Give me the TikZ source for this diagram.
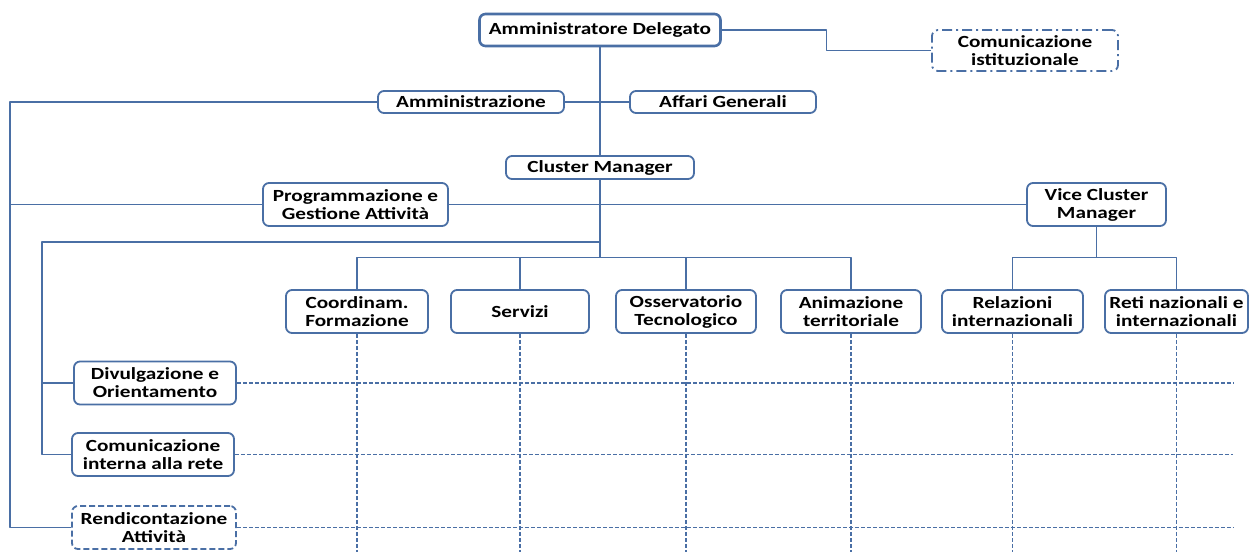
\documentclass[tikz,border=0pt]{standalone}
\usepackage{fontspec}
\setmainfont{Carlito}[FakeStretch=1.25]
\usetikzlibrary{calc}
\definecolor{orgblue}{HTML}{4A6FA5}

\begin{document}
\begin{tikzpicture}[line join=round,x=1pt,y=-1pt,
    box/.style={draw=orgblue,line width=1.8pt,rounded corners=6pt,fill=white,
      align=center,inner sep=0pt,minimum height=43pt,
      font=\bfseries\fontsize{17}{18}\selectfont},
    link/.style={draw=orgblue,line width=1.6pt},
    grid/.style={draw=orgblue,line width=1.2pt,dash pattern=on 4pt off 2pt}]
  \useasboundingbox (0,0) rectangle (1249,552);
  % top of the chart
  \node[box,minimum width=241pt,minimum height=32pt,line width=2.6pt] (ad) at (600,30) {Amministratore Delegato};
  \node[box,minimum width=186pt,minimum height=41pt,dash pattern=on 10pt off 4pt on 2pt off 4pt] (comist) at (1025,50.5) {Comunicazione\\istituzionale};
  \node[box,minimum width=186pt,minimum height=22pt] (amm) at (471,102) {Amministrazione};
  \node[box,minimum width=186pt,minimum height=22pt] (aff) at (723,102) {Affari Generali};
  \node[box,minimum width=188pt,minimum height=23pt] (cm) at (600,167.5) {Cluster Manager};
  \node[box,minimum width=185pt] (prog) at (355.5,204.5) {Programmazione e\\Gestione Attività};
  \node[box,minimum width=139pt] (vcm) at (1096.5,204.5) {Vice Cluster\\Manager};
  % second level
  \node[box,minimum width=142pt] (form) at (357,311.5) {Coordinam.\\Formazione};
  \node[box,minimum width=138pt] (serv) at (520,311.5) {Servizi};
  \node[box,minimum width=140pt] (oss) at (686,311.5) {Osservatorio\\Tecnologico};
  \node[box,minimum width=140pt] (anim) at (851,311.5) {Animazione\\territoriale};
  \node[box,minimum width=141pt] (rel) at (1012.5,311.5) {Relazioni\\internazionali};
  \node[box,minimum width=143pt] (reti) at (1176.5,311.5) {Reti nazionali e\\internazionali};
  % left column
  \node[box,minimum width=162pt] (div) at (155,383) {Divulgazione e\\Orientamento};
  \node[box,minimum width=162pt] (comint) at (153,454.5) {Comunicazione\\interna alla rete};
  \node[box,minimum width=164pt,dash pattern=on 6pt off 3pt] (rend) at (154,527.5) {Rendicontazione\\Attività};

  \coordinate (spineA) at (10,0);
  \coordinate (spineB) at (42,242);
  \coordinate (busC) at (600,257.5);
  \coordinate (busV) at (1096.5,257.5);

  \draw[link] (ad.east) -| ($(ad.east)!.5!(comist.west)$) |- (comist.west);
  \draw[link] (ad.south) -- (cm.north);
  \draw[link] (amm.east) -- (aff.west);
  \draw[link] (amm.west) -| (spineA |- rend.west) -- (rend.west);
  \draw[link] (prog.west) -- (spineA |- prog.west);
  \draw[link] (prog.east) -- (vcm.west);
  \draw[link] (cm.south) -- (busC);
  \draw[link] (cm.south |- spineB) -- (spineB) |- (comint.west);
  \draw[link] (spineB |- div.west) -- (div.west);
  \draw[link] (form.north) |- (busC) -| (anim.north);
  \draw[link] (serv.north) -- (serv.north |- busC);
  \draw[link] (oss.north) -- (oss.north |- busC);
  \draw[link] (vcm.south) -- (busV);
  \draw[link] (rel.north) |- (busV) -| (reti.north);

  % dotted matrix
  \foreach \b in {form,serv,oss,anim,rel,reti}
    \draw[grid] (\b.south) -- (\b.south |- 0,552);
  \foreach \b in {div,comint,rend}
    \draw[grid] (\b.east) -- (\b.east -| 1233,0);
\end{tikzpicture}
\end{document}
